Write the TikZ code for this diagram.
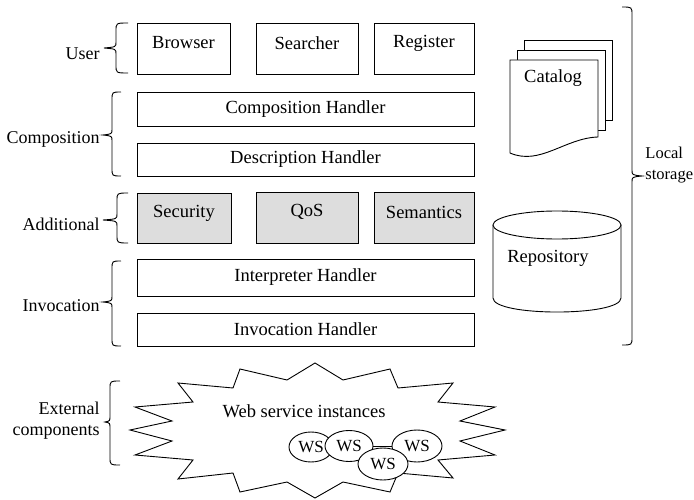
\documentclass[tikz,border=0pt]{standalone}
\usepackage{fontspec}
\setmainfont{LiberationSerif-Regular.ttf}
\usetikzlibrary{shapes.geometric}
\definecolor{addfill}{RGB}{221,221,221}

% curly brace opening to the right: #1 spine x, #2 end x, #3 tip x, #4 top y, #5 bottom y, #6 tip y
\newcommand{\openbrace}[6]{%
  \draw (#2,#4) .. controls (#1,#4) .. ({#1},{#4+8}) -- ({#1},{#6-6})
        .. controls (#1,{#6-1}) .. (#3,#6)
        .. controls (#1,{#6+1}) .. ({#1},{#6+6}) -- ({#1},{#5-8})
        .. controls (#1,#5) .. (#2,#5);}

\begin{document}
\begin{tikzpicture}[x=1pt,y=-1pt,line width=0.9pt,
  every node/.style={font=\fontsize{18.5}{21}\selectfont},
  box/.style={draw,rectangle,inner sep=0pt},
  addbox/.style={box,fill=addfill},
  txt/.style={inner sep=0pt},
  sidelabel/.style={txt,anchor=east,font=\fontsize{18}{21}\selectfont},
  ws/.style={draw,ellipse,fill=white,inner sep=0pt,font=\fontsize{17}{20}\selectfont}]
\useasboundingbox (0,0) rectangle (694,500);

% user layer
\node[box,minimum width=93pt,minimum height=51pt] (browser) at (183.5,48.5) {};
\node[txt] (browsertxt) at (183.5,43) {Browser};
\node[box,minimum width=102pt,minimum height=51pt] (searcher) at (307,48.5) {};
\node[txt] (searchertxt) at (307,43) {Searcher};
\node[box,minimum width=100pt,minimum height=51pt] (register) at (424,48.5) {};
\node[txt] (registertxt) at (424,43) {Register};

% composition layer
\node[box,minimum width=337pt,minimum height=34pt] (comp) at (305.5,109) {Composition Handler};
\node[box,minimum width=337pt,minimum height=33pt] (desc) at (305.5,159.5) {Description Handler};

% additional layer
\node[addbox,minimum width=94pt,minimum height=50pt] (security) at (184,218) {};
\node[txt] (securitytxt) at (184,213) {Security};
\node[addbox,minimum width=102pt,minimum height=51pt] (qos) at (307,217.5) {};
\node[txt] (qostxt) at (307,212) {QoS};
\node[addbox,minimum width=100pt,minimum height=51pt] (semantics) at (424,217.5) {};
\node[txt] (semanticstxt) at (424,212) {Semantics};

% invocation layer
\node[box,minimum width=337pt,minimum height=37pt] (interp) at (305.5,277.5) {Interpreter Handler};
\node[box,minimum width=337pt,minimum height=33pt] (invoc) at (305.5,329.5) {Invocation Handler};

% layer braces and their labels
\openbrace{116}{128}{104}{23}{73}{48}
\node[sidelabel] (user) at (100,54) {User};
\openbrace{112}{121}{103}{92}{176}{135}
\node[sidelabel] (composition) at (100,139) {Composition};
\openbrace{117}{128}{103}{193}{243}{220}
\node[sidelabel] (additional) at (100,224) {Additional};
\openbrace{112}{121}{103}{261}{346}{302}
\node[sidelabel] (invocation) at (100,306) {Invocation};
\openbrace{110}{120}{105}{381}{465}{422}
\node[sidelabel,align=right] (external) at (100,421) {External\\components};

% catalog: stacked documents
\draw[fill=white] (524,40) rectangle (612,120);
\draw[fill=white] (517,50) rectangle (605,130);
\draw[fill=white] (510,60) -- (598,60) -- (598,137)
   .. controls (565,138) and (540,166) .. (510,153) -- cycle;
\node[txt] (catalog) at (553,78) {Catalog};

% repository: cylinder
\draw[fill=white] (493,225) -- (493,298) .. controls (493,316.7) and (621,316.7) .. (621,298) -- (621,225);
\draw[fill=white] (557,225) ellipse [x radius=64pt,y radius=14pt];
\node[txt] (repository) at (548,258) {Repository};

% local storage brace
\draw (622,7) .. controls (632,7) .. (632,15) -- (632,170)
   .. controls (632,175) .. (642,176)
   .. controls (632,177) .. (632,182) -- (632,337)
   .. controls (632,345) .. (622,345);
\node[txt,anchor=west,align=left,font=\fontsize{16.5}{21}\selectfont] (storage) at (645,165) {Local\\storage};

% web service instances: explosion outline
\draw (315,363) -- (343,380) -- (390,369) -- (398,388) -- (453,383) -- (438,402)
  -- (495,407) -- (460,421) -- (505,430) -- (460,441) -- (495,455) -- (438,460)
  -- (453,478) -- (398,473) -- (390,492) -- (343,482) -- (315,498) -- (287,482)
  -- (240,492) -- (233,473) -- (178,479) -- (193,460) -- (135,455) -- (172,441)
  -- (130,430) -- (172,421) -- (135,407) -- (193,402) -- (178,383) -- (233,388)
  -- (240,369) -- (287,380) -- cycle;
\node[txt] (wsi) at (304,411) {Web service instances};

\node[ws,minimum width=44pt,minimum height=30pt] (ws1) at (311,447) {WS};
\node[ws,minimum width=48pt,minimum height=31pt] (ws2) at (349,446) {WS};
\node[ws,minimum width=50pt,minimum height=32pt] (ws4) at (417,446) {WS};
\node[ws,minimum width=50pt,minimum height=32pt] (ws3) at (383,464) {WS};
\draw (ws2) -- (ws4);
\end{tikzpicture}
\end{document}
